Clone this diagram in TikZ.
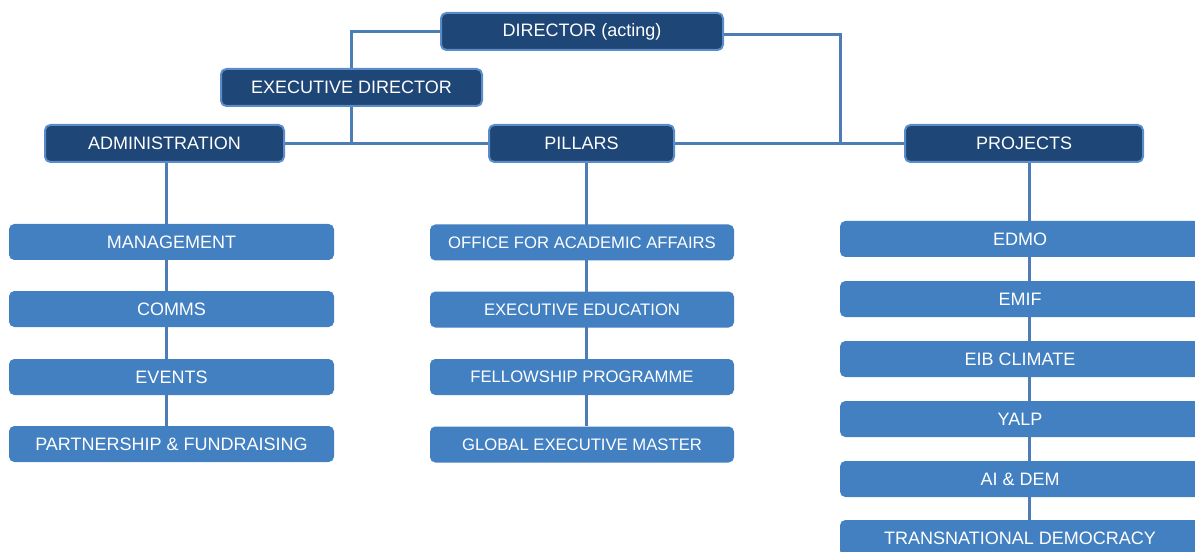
\documentclass[tikz,border=0pt]{standalone}
\usepackage{fontspec}
\setmainfont{Liberation Sans}
\usetikzlibrary{backgrounds}

\definecolor{navybox}{RGB}{30,70,118}
\definecolor{navyrim}{RGB}{92,140,200}
\definecolor{unitblue}{RGB}{66,128,193}
\definecolor{linkblue}{RGB}{78,124,182}

\tikzset{
  headbox/.style={draw=navyrim,line width=1.5pt,fill=navybox,rounded corners=4pt,text=white,
    minimum height=27.75pt,inner sep=0pt,font=\fontsize{13.5}{16}\selectfont},
  unitbox/.style={draw=none,fill=unitblue,rounded corners=4pt,text=white,
    minimum height=27pt,inner sep=0pt,font=\fontsize{13.5}{16}\selectfont},
  pillarbox/.style={unitbox,minimum width=228pt,font=\fontsize{12.5}{15}\selectfont},
  link/.style={draw=linkblue,line width=2.25pt}
}

\begin{document}
\begin{tikzpicture}[x=0.75pt,y=0.75pt,yscale=-1,xscale=1]
\useasboundingbox (0,0) rectangle (1195,552);
\clip (0,0) rectangle (1195,552);

%Head Boxes
\node[headbox,minimum width=211.5pt] (dir) at (582,31.5) {DIRECTOR (acting)};
\node[headbox,minimum width=195.75pt] (exec) at (351.5,87.5) {EXECUTIVE DIRECTOR};
\node[headbox,minimum width=179.25pt] (admin) at (164.5,143.5) {ADMINISTRATION};
\node[headbox,minimum width=138.75pt] (pillars) at (581.5,143.5) {PILLARS};
\node[headbox,minimum width=178.5pt] (projects) at (1024,143.5) {PROJECTS};
\coordinate (dirjoin) at (840,144.5);

%Administration Units
\node[unitbox,minimum width=243.75pt] (mgmt) at (171.5,242) {MANAGEMENT};
\node[unitbox,minimum width=243.75pt] (comms) at (171.5,309) {COMMS};
\node[unitbox,minimum width=243.75pt] (events) at (171.5,377) {EVENTS};
\node[unitbox,minimum width=243.75pt] (pfund) at (171.5,444) {PARTNERSHIP \& FUNDRAISING};

%Pillar Units
\node[pillarbox] (oaa) at (582,242.5) {OFFICE FOR ACADEMIC AFFAIRS};
\node[pillarbox] (exed) at (582,309.5) {EXECUTIVE EDUCATION};
\node[pillarbox] (fellow) at (582,377) {FELLOWSHIP PROGRAMME};
\node[pillarbox] (gem) at (582,444.5) {GLOBAL EXECUTIVE MASTER};

%Project Units
\node[unitbox,minimum width=270pt] (edmo) at (1020,239) {EDMO};
\node[unitbox,minimum width=270pt] (emif) at (1020,299) {EMIF};
\node[unitbox,minimum width=270pt] (eib) at (1020,359) {EIB CLIMATE};
\node[unitbox,minimum width=270pt] (yalp) at (1020,419) {YALP};
\node[unitbox,minimum width=270pt] (aidem) at (1020,479) {AI \& DEM};
\node[unitbox,minimum width=270pt] (tdem) at (1020,538) {TRANSNATIONAL DEMOCRACY};

%Connectors
\begin{scope}[on background layer]
\draw[link] (dir.west) -| (exec.north);
\draw[link] ([yshift=2.5pt]dir.east) -| (dirjoin);
\draw[link] (exec.south) -- (exec.south |- admin.east);
\draw[link] (admin.east) -- (pillars.west);
\draw[link] (pillars.east) -- (projects.west);
\draw[link] ([xshift=1.5]admin.south) -- ([xshift=1.5]admin.south |- pfund.north);
\draw[link] ([xshift=3.5]pillars.south) -- ([xshift=3.5]pillars.south |- gem.north);
\draw[link] ([xshift=4]projects.south) -- ([xshift=4]projects.south |- tdem.north);
\end{scope}

\end{tikzpicture}
\end{document}
